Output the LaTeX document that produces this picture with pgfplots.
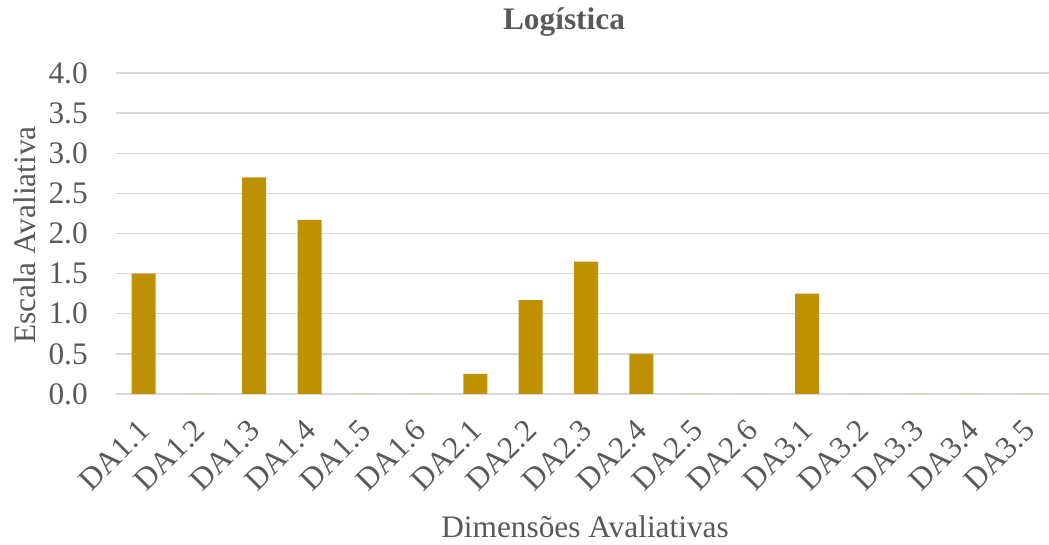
\documentclass[border=0pt]{standalone}
\usepackage{pgfplots}
\pgfplotsset{compat=1.18}
\usepackage{fontspec}
\setmainfont{Liberation Serif}
\definecolor{barcol}{HTML}{BF9000}
\definecolor{txt}{HTML}{595959}
\definecolor{gridc}{HTML}{D9D9D9}
\begin{document}
\begin{tikzpicture}
\useasboundingbox (-87pt,-113.25pt) rectangle (699.75pt,295.5pt);
\begin{axis}[
  at={(0,0)}, anchor=south west,
  scale only axis,
  width=705pt, height=240.75pt,
  xmin=-0.5, xmax=16.5,
  ymin=0, ymax=4,
  ytick={0,0.5,...,4},
  xtick={0,...,16},
  xticklabels={DA1.1,DA1.2,DA1.3,DA1.4,DA1.5,DA1.6,DA2.1,DA2.2,DA2.3,DA2.4,DA2.5,DA2.6,DA3.1,DA3.2,DA3.3,DA3.4,DA3.5},
  axis line style={draw=none},
  tick style={draw=none},
  ymajorgrids,
  major grid style={color=gridc, line width=1.1pt},
  /pgf/number format/assume math mode=true,
  yticklabel={\pgfmathprintnumber[fixed,fixed zerofill,precision=1]{\tick}},
  every tick label/.append style={font=\fontsize{23.5}{27}\selectfont, text=txt},
  yticklabel style={inner sep=0pt, anchor=east, xshift=-21pt},
  xticklabel style={inner sep=0pt, rotate=45, anchor=east, xshift=-16.1pt, yshift=-16.9pt},
  every axis title shift=0pt,
  title={\textbf{Logística}},
  title style={at={(axis description cs:0.4766,1.159)}, anchor=center, font=\fontsize{23.5}{27}\selectfont, text=txt},
  xlabel={Dimensões Avaliativas},
  xlabel style={at={(axis description cs:0.499,-0.414)}, anchor=center, font=\fontsize{23.5}{27}\selectfont, text=txt},
  ylabel={Escala Avaliativa},
  ylabel style={at={(axis description cs:-0.0968,0.495)}, anchor=center, rotate=0, font=\fontsize{23.5}{27}\selectfont, text=txt},
  clip=false,
]
\addplot[ybar, bar width=18pt, fill=barcol, draw=none] coordinates {
  (0,1.5) (1,0) (2,2.7) (3,2.17) (4,0) (5,0) (6,0.25) (7,1.17) (8,1.65)
  (9,0.5) (10,0) (11,0) (12,1.25) (13,0) (14,0) (15,0) (16,0)
};
\end{axis}
\end{tikzpicture}
\end{document}
